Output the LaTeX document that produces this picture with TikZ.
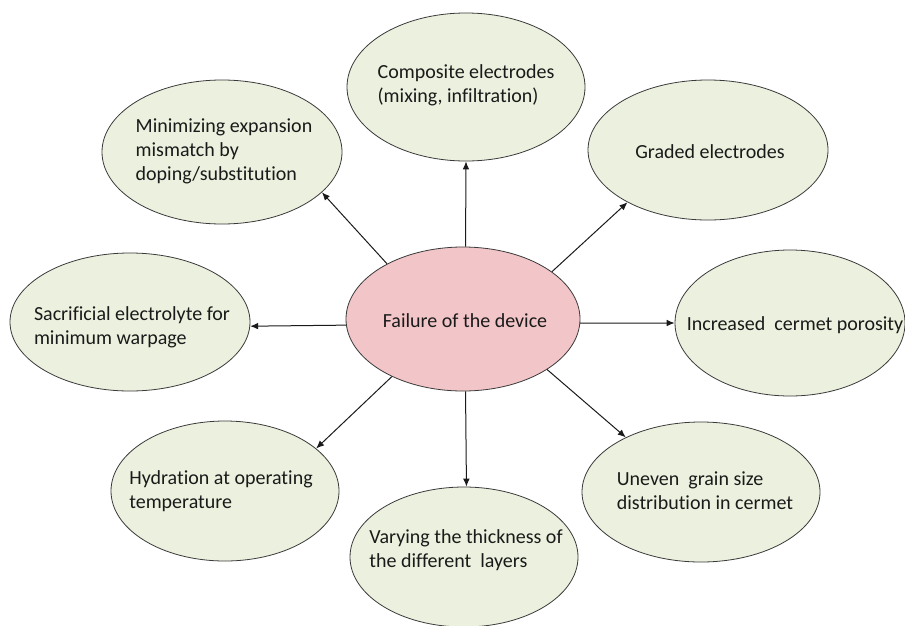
\documentclass[tikz,border=0pt]{standalone}
\usepackage{fontspec}
\setmainfont{Carlito}[Ligatures={NoCommon,NoContextual}]
\usetikzlibrary{shapes.geometric,arrows.meta}
\definecolor{leaf}{HTML}{EBF1DE}
\definecolor{rose}{HTML}{F2C6C8}
\definecolor{edge}{HTML}{3A3A3A}
\definecolor{ink}{HTML}{1A1A1A}
\tikzset{
  bubble/.style={ellipse, draw=edge, line width=0.6pt, fill=leaf, inner sep=0pt},
  hub/.style={bubble, fill=rose},
  caption/.style={align=left, inner sep=0pt, text=ink, font=\fontsize{15}{18}\selectfont},
  link/.style={draw=ink, line width=0.75pt, -{Latex[length=6pt,width=5pt]}}
}
\begin{document}
\begin{tikzpicture}[x=0.75pt, y=-0.75pt]
\useasboundingbox (0,0) rectangle (905,625);
% ellipses
\node[hub, minimum width=175.5pt, minimum height=108pt] (C) at (463,319) {};
\node[bubble, minimum width=178.5pt, minimum height=111pt] (comp) at (466,87) {};
\node[bubble, minimum width=180pt, minimum height=108pt] (mini) at (222,152) {};
\node[bubble, minimum width=180pt, minimum height=105pt] (grad) at (708,150) {};
\node[bubble, minimum width=180pt, minimum height=103.5pt] (sacr) at (130,322) {};
\node[bubble, minimum width=172.5pt, minimum height=109.5pt] (incr) at (790,323) {};
\node[bubble, minimum width=171pt, minimum height=105pt] (hydr) at (225,491) {};
\node[bubble, minimum width=178.5pt, minimum height=105pt] (unev) at (701,492) {};
\node[bubble, minimum width=171pt, minimum height=105pt] (vary) at (464,557) {};
% texts
\node[caption] (tC) at (465,321) {Failure of the device};
\node[caption] (tcomp) at (466,85) {Composite electrodes\\(mixing, infiltration)};
\node[caption] (tmini) at (224,151) {Minimizing expansion\\mismatch by\\doping/substitution};
\node[caption] (tgrad) at (710,152) {Graded electrodes};
\node[caption] (tsacr) at (132,327) {Sacrificial electrolyte for\\minimum warpage};
\node[caption] (tincr) at (795,325) {Increased\ \ cermet porosity};
\node[caption] (thydr) at (221,491) {Hydration at operating\\temperature};
\node[caption] (tunev) at (705,491) {Uneven\ \ grain size\\distribution in cermet};
\node[caption] (tvary) at (466,550) {Varying the thickness of\\the different\ \ layers};
% connectors
\draw[link] (C.88) -- (comp.-90);
\draw[link] (C.144.8) -- (mini.-22.6);
\draw[link] (C.28.5) -- (grad.213.5);
\draw[link] (C.183.4) -- (sacr.-2);
\draw[link] (C.-2) -- (incr.180);
\draw[link] (C.219.6) -- (hydr.25);
\draw[link] (C.-31.7) -- (unev.144.2);
\draw[link] (C.-88) -- (vary.88);
\end{tikzpicture}
\end{document}
